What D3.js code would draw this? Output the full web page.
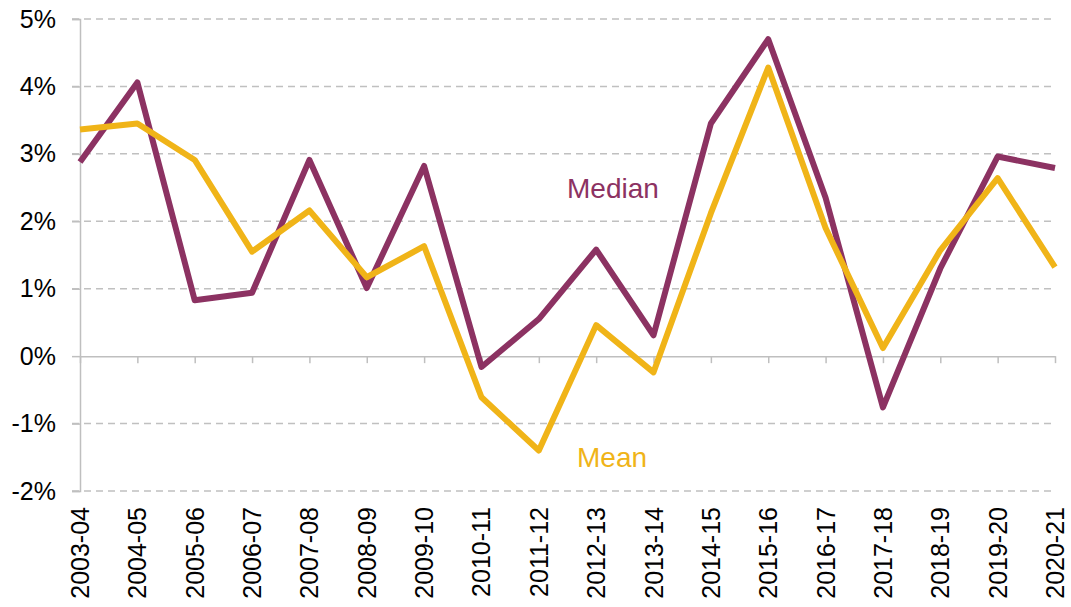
<!DOCTYPE html>
<html>
<head>
<meta charset="utf-8">
<script src="https://cdn.jsdelivr.net/npm/d3@7"></script>
<style>
  body { margin: 0; background: #fff; }
  svg { font-family: "Liberation Sans", Arial, sans-serif; }
</style>
</head>
<body>
<svg id="chart" width="1071" height="607"></svg>
<script>
// Years along the x axis
var years = ["2003-04", "2004-05", "2005-06", "2006-07", "2007-08", "2008-09",
  "2009-10", "2010-11", "2011-12", "2012-13", "2013-14", "2014-15", "2015-16",
  "2016-17", "2017-18", "2018-19", "2019-20", "2020-21"];

// Growth, in percent
var median = [2.88, 4.06, 0.83, 0.94, 2.91, 1.01, 2.82, -0.16, 0.55, 1.58, 0.31,
  3.45, 4.70, 2.35, -0.76, 1.30, 2.96, 2.79];
var mean = [3.36, 3.45, 2.91, 1.55, 2.16, 1.17, 1.63, -0.61, -1.40, 0.46, -0.24,
  2.12, 4.28, 1.90, 0.12, 1.57, 2.64, 1.32];

var yTicks = [-2, -1, 0, 1, 2, 3, 4, 5];

var svg = d3.select("#chart");
var plotLeft = 80, plotRight = 1055, plotTop = 19, plotBottom = 491;

var x = d3.scalePoint().domain(years).range([plotLeft, plotRight]);
var y = d3.scaleLinear().domain([-2, 5]).range([plotBottom, plotTop]);

// dashed gridlines
svg.selectAll(".grid")
  .data(yTicks.filter(function(d){ return d !== 0 }))
  .enter()
  .append("line")
    .attr("x1", plotLeft - 8)
    .attr("x2", plotRight)
    .attr("y1", function(d){ return y(d) })
    .attr("y2", function(d){ return y(d) })
    .attr("stroke", "#c0c0c0")
    .attr("stroke-width", 1.5)
    .attr("stroke-dasharray", "7,5")

// y axis
var yAxis = d3.axisLeft(y).tickValues(yTicks).tickSize(8).tickFormat(function(d){ return d + "%" });
var gy = svg.append("g").attr("transform", "translate(" + plotLeft + ",0)").call(yAxis);
gy.select(".domain").attr("stroke", "#bfbfbf").attr("stroke-width", 1.5);
gy.selectAll(".tick line").attr("stroke", "#bfbfbf").attr("stroke-width", 1.5);
gy.selectAll(".tick text")
  .attr("x", -24)
  .attr("font-size", 25)
  .attr("fill", "#000")
  .attr("font-family", "Liberation Sans, Arial, sans-serif");

// x axis along zero
var xAxis = d3.axisBottom(x).tickSize(7).tickSizeOuter(0);
var gx = svg.append("g").attr("transform", "translate(0," + y(0) + ")").call(xAxis);
gx.select(".domain").attr("stroke", "#bfbfbf").attr("stroke-width", 1.5);
gx.selectAll(".tick line").attr("stroke", "#bfbfbf").attr("stroke-width", 1.5);
gx.selectAll(".tick text").remove();

// category labels, rotated, at the bottom
svg.selectAll(".xlab")
  .data(years)
  .enter()
  .append("text")
    .attr("transform", function(d){ return "translate(" + (x(d) + 9) + "," + 507 + ") rotate(-90)" })
    .attr("text-anchor", "end")
    .attr("font-size", 25)
    .attr("fill", "#000")
    .text(function(d){ return d })

var line = d3.line()
  .x(function(d, i){ return x(years[i]) })
  .y(function(d){ return y(d) });

svg.append("path")
  .datum(median)
  .attr("d", line)
  .attr("fill", "none")
  .attr("stroke", "#8c3262")
  .attr("stroke-width", 6)
  .attr("stroke-linejoin", "round")

svg.append("path")
  .datum(mean)
  .attr("d", line)
  .attr("fill", "none")
  .attr("stroke", "#f0b418")
  .attr("stroke-width", 6)
  .attr("stroke-linejoin", "round")

// series labels
svg.append("text")
  .attr("x", 567).attr("y", 198)
  .attr("font-size", 28)
  .attr("fill", "#8c3262")
  .text("Median")

svg.append("text")
  .attr("x", 577).attr("y", 467)
  .attr("font-size", 28)
  .attr("fill", "#f0b418")
  .text("Mean")
</script>
</body>
</html>
